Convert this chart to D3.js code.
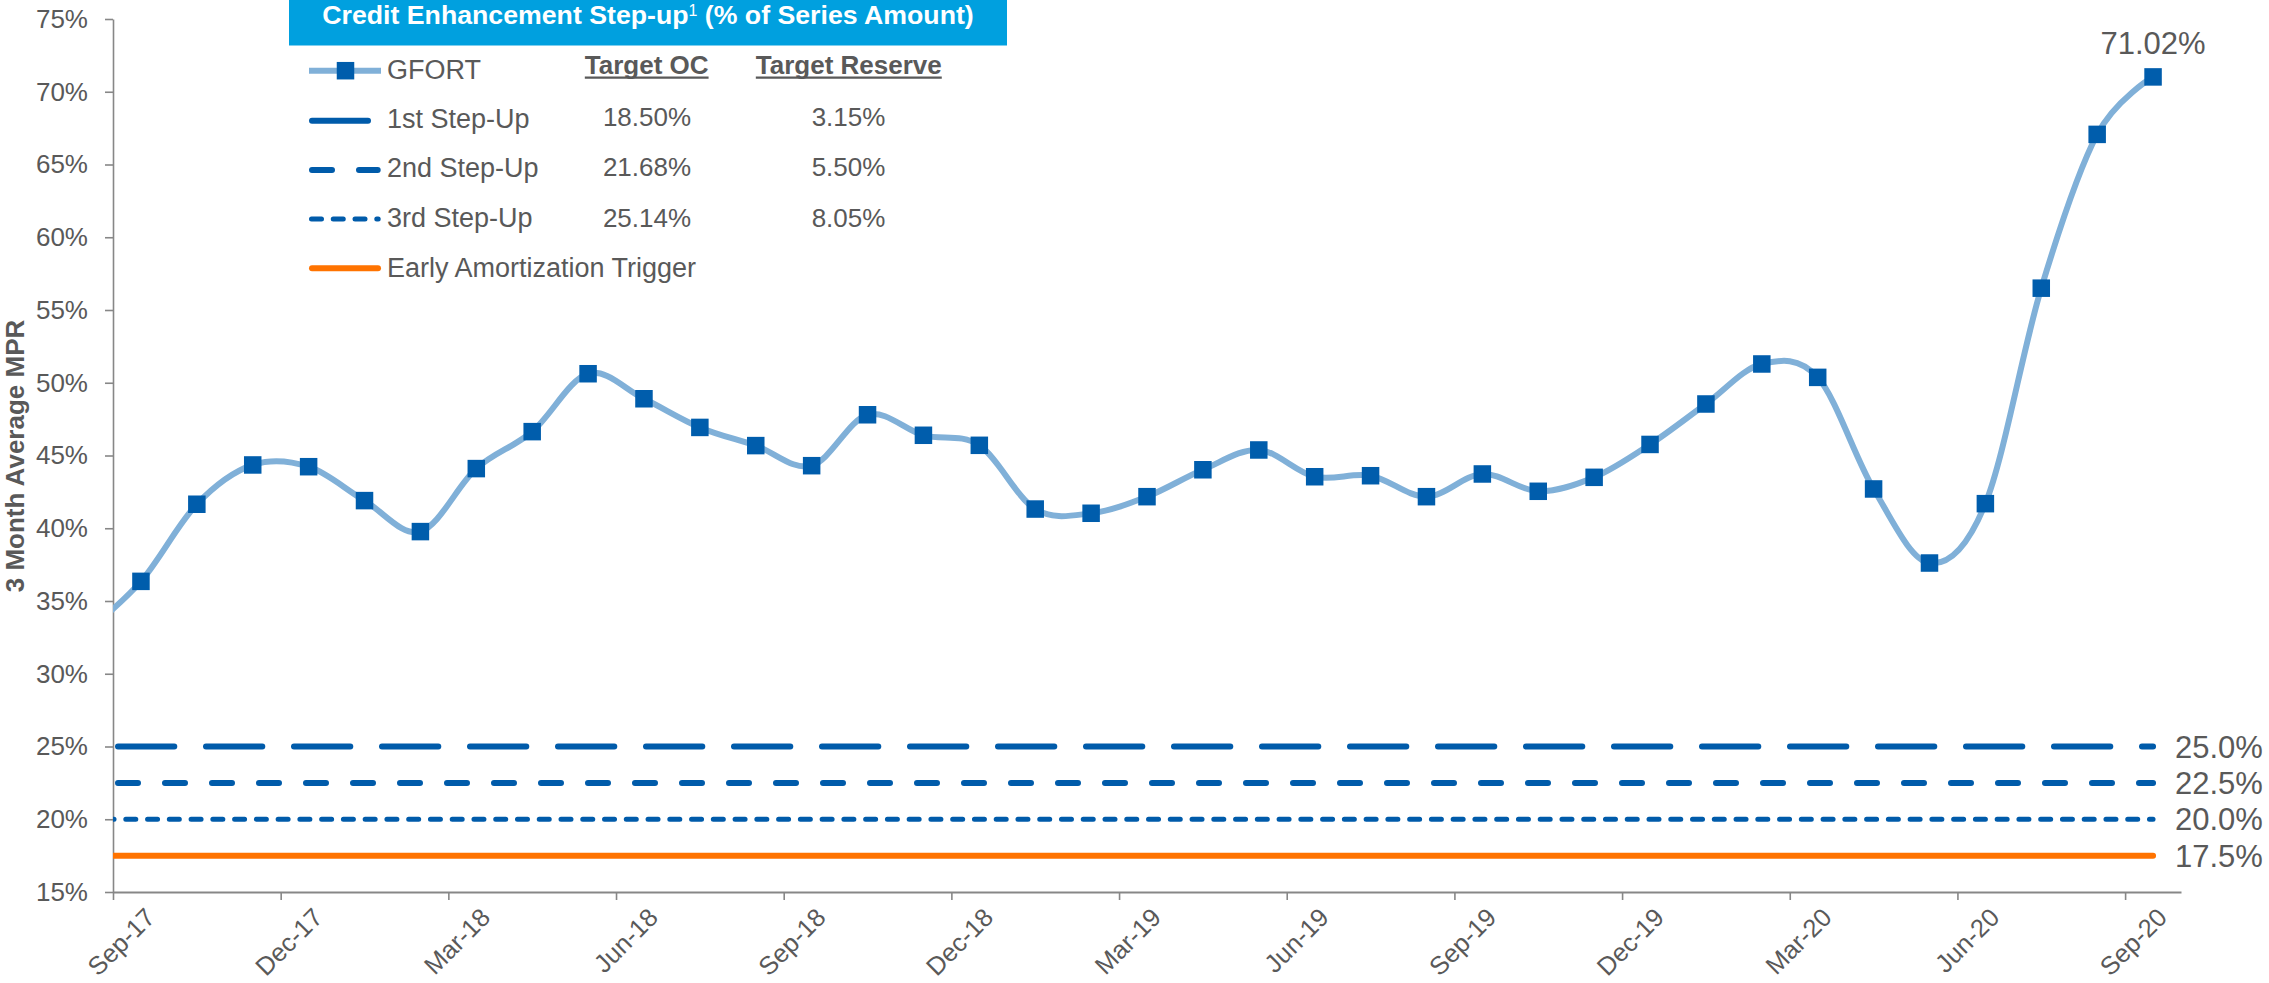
<!DOCTYPE html>
<html>
<head>
<meta charset="utf-8">
<script src="https://cdn.jsdelivr.net/npm/d3@7"></script>
<style>
  html, body { margin: 0; padding: 0; background: #ffffff; }
  svg { display: block; font-family: "Liberation Sans", Arial, Helvetica, sans-serif; }
</style>
</head>
<body>
<svg id="chart" width="2269" height="983"></svg>
<script>
// Monthly 3-month average MPR (first entry sits just left of the plot edge)
const months = [
  "Aug-17","Sep-17","Oct-17","Nov-17","Dec-17","Jan-18","Feb-18","Mar-18","Apr-18","May-18",
  "Jun-18","Jul-18","Aug-18","Sep-18","Oct-18","Nov-18","Dec-18","Jan-19","Feb-19","Mar-19",
  "Apr-19","May-19","Jun-19","Jul-19","Aug-19","Sep-19","Oct-19","Nov-19","Dec-19","Jan-20",
  "Feb-20","Mar-20","Apr-20","May-20","Jun-20","Jul-20","Aug-20","Sep-20"
];
const gfort = [
  32.8, 36.35, 41.65, 44.35, 44.23, 41.9, 39.77, 44.1, 46.64, 50.62,
  48.9, 46.93, 45.68, 44.3, 47.8, 46.39, 45.7, 41.32, 41.03, 42.17,
  44.02, 45.38, 43.54, 43.61, 42.17, 43.73, 42.54, 43.5, 45.76, 48.54,
  51.29, 50.37, 42.7, 37.61, 41.69, 56.5, 67.07, 71.02
];

// Quarterly axis labels (positions are month boundaries counted from Sep-17)
const quarterTicks = [0, 3, 6, 9, 12, 15, 18, 21, 24, 27, 30, 33, 36];
const quarterLabels = ["Sep-17","Dec-17","Mar-18","Jun-18","Sep-18","Dec-18","Mar-19",
                       "Jun-19","Sep-19","Dec-19","Mar-20","Jun-20","Sep-20"];
const yTicks = [15, 20, 25, 30, 35, 40, 45, 50, 55, 60, 65, 70, 75];

// Trigger levels
const stepNames = ["1st Step-Up", "2nd Step-Up", "3rd Step-Up", "Early Amortization Trigger"];
const stepLevels = [25.0, 22.5, 20.0, 17.5];
const targetOC = ["18.50%", "21.68%", "25.14%"];
const targetReserve = ["3.15%", "5.50%", "8.05%"];

// ---- styling ----
const TEXT = "#595959";
const AXIS = "#878787";
const LINE_LIGHT = "#80B0D8";
const MARKER = "#005DAC";
const STEP_BLUE = "#005BAA";
const ORANGE = "#FF7300";
const HEADER = "#00A0DF";

const stepStyles = [
  { color: STEP_BLUE, width: 6, dash: "56.3 31.7", offset: -5 },
  { color: STEP_BLUE, width: 6, dash: "20 27", offset: -5 },
  { color: STEP_BLUE, width: 5, dash: "10 11.76", offset: 8.96 },
  { color: ORANGE,    width: 6, dash: null, offset: 0 }
];

const svg = d3.select("#chart");

const x = d3.scaleLinear().domain([0, 37]).range([113, 2181]);
const y = d3.scaleLinear().domain([15, 75]).range([892, 19]);
const posOf = j => x(j - 0.5);   // month j centred in its slot

svg.append("clipPath").attr("id", "plotClip")
  .append("rect")
  .attr("x", x(0)).attr("y", 0)
  .attr("width", x(37) - x(0) + 30).attr("height", y(15));

// ---- axes ----
const yAxis = d3.axisLeft(y)
  .tickValues(yTicks)
  .tickFormat(d => d + "%")
  .tickSize(8)
  .tickPadding(17)
  .tickSizeOuter(0);

const gy = svg.append("g").attr("transform", `translate(${x(0)},0)`).call(yAxis);
gy.select(".domain").attr("stroke", AXIS).attr("stroke-width", 1.6);
gy.selectAll(".tick line").attr("stroke", AXIS).attr("stroke-width", 1.6);
gy.selectAll(".tick text")
  .attr("fill", TEXT)
  .style("font-size", "26px")
  .style("font-family", "'Liberation Sans', Arial, sans-serif");

const xAxis = d3.axisBottom(x)
  .tickValues(quarterTicks)
  .tickFormat((d, i) => quarterLabels[i])
  .tickSize(8)
  .tickSizeOuter(0);

const gx = svg.append("g").attr("transform", `translate(0,${y(15)})`).call(xAxis);
gx.select(".domain").attr("stroke", AXIS).attr("stroke-width", 2);
gx.selectAll(".tick line").attr("stroke", AXIS).attr("stroke-width", 1.6);
gx.selectAll(".tick text")
  .attr("fill", TEXT)
  .attr("y", 0).attr("dy", 0)
  .attr("text-anchor", "end")
  .attr("transform", "translate(43,27) rotate(-45)")
  .style("font-size", "25.5px")
  .style("font-family", "'Liberation Sans', Arial, sans-serif");

// y-axis title
svg.append("text")
  .attr("transform", `translate(23.5,456) rotate(-90)`)
  .attr("text-anchor", "middle")
  .attr("fill", TEXT)
  .style("font-size", "26px")
  .style("font-weight", "bold")
  .text("3 Month Average MPR");

// ---- trigger lines ----
const plot = svg.append("g").attr("clip-path", "url(#plotClip)");
const lastPos = posOf(months.length - 1);

stepLevels.forEach((lvl, i) => {
  const st = stepStyles[i];
  const line = d3.line()([[x(0), y(lvl)], [lastPos, y(lvl)]]);
  const p = plot.append("path")
    .attr("d", line)
    .attr("fill", "none")
    .attr("stroke", st.color)
    .attr("stroke-width", st.width)
    .attr("stroke-linecap", "round");
  if (st.dash) p.attr("stroke-dasharray", st.dash).attr("stroke-dashoffset", st.offset);

  svg.append("text")
    .attr("x", 2175)
    .attr("y", y(lvl))
    .attr("dy", "0.36em")
    .attr("fill", TEXT)
    .style("font-size", "31px")
    .text(d3.format(".1f")(lvl) + "%");
});

// ---- GFORT series ----
const series = gfort.map((v, j) => [posOf(j), y(v)]);
plot.append("path")
  .attr("d", d3.line().curve(d3.curveCardinal.tension(0))(series))
  .attr("fill", "none")
  .attr("stroke", LINE_LIGHT)
  .attr("stroke-width", 6)
  .attr("stroke-linejoin", "round");

const M = 17.5;
plot.selectAll("rect.marker")
  .data(series)
  .join("rect")
  .attr("class", "marker")
  .attr("x", d => d[0] - M / 2)
  .attr("y", d => d[1] - M / 2)
  .attr("width", M).attr("height", M)
  .attr("fill", MARKER);

// latest value label
const lastVal = gfort[gfort.length - 1];
svg.append("text")
  .attr("x", lastPos)
  .attr("y", y(lastVal) - 23)
  .attr("text-anchor", "middle")
  .attr("fill", TEXT)
  .style("font-size", "31px")
  .text(d3.format(".2f")(lastVal) + "%");

// ---- legend / step-up table ----
const lg = svg.append("g");

lg.append("rect")
  .attr("x", 289).attr("y", 0)
  .attr("width", 718).attr("height", 45.5)
  .attr("fill", HEADER);

const title = lg.append("text")
  .attr("x", 648).attr("y", 23.5)
  .attr("text-anchor", "middle")
  .attr("fill", "#ffffff")
  .style("font-size", "26.7px")
  .style("font-weight", "bold");
title.append("tspan").text("Credit Enhancement Step-up");
title.append("tspan").attr("baseline-shift", "super").style("font-size", "16px").style("font-weight", "normal").text("1");
title.append("tspan").text(" (% of Series Amount)");

const symX0 = 309, symX1 = 381;
const rowSym = [70.7, 120.7, 170, 219, 268.3];
const rowBase = [79, 128.3, 176.8, 226.7, 276.7];
const textX = 387;
const LEG_FONT = "27px";

// GFORT row
lg.append("line")
  .attr("x1", symX0).attr("x2", symX1)
  .attr("y1", rowSym[0]).attr("y2", rowSym[0])
  .attr("stroke", LINE_LIGHT).attr("stroke-width", 6);
lg.append("rect")
  .attr("x", 345.5 - M / 2).attr("y", rowSym[0] - M / 2)
  .attr("width", M).attr("height", M)
  .attr("fill", MARKER);
lg.append("text")
  .attr("x", textX).attr("y", rowBase[0])
  .attr("fill", TEXT).style("font-size", LEG_FONT)
  .text("GFORT");

// trigger rows
const legendSeg = [[312, 368], [312, 377.7], [311.5, 378.2], [312, 378]];
stepNames.forEach((name, i) => {
  const st = stepStyles[i];
  const ln = lg.append("line")
    .attr("x1", legendSeg[i][0]).attr("x2", legendSeg[i][1])
    .attr("y1", rowSym[i + 1]).attr("y2", rowSym[i + 1])
    .attr("stroke", st.color)
    .attr("stroke-width", st.width)
    .attr("stroke-linecap", "round");
  if (st.dash && i > 0) ln.attr("stroke-dasharray", st.dash);
  lg.append("text")
    .attr("x", textX).attr("y", rowBase[i + 1])
    .attr("fill", TEXT).style("font-size", LEG_FONT)
    .text(name);
});

// column headers with underline
const headers = [["Target OC", 646.7], ["Target Reserve", 848.8]];
headers.forEach(([label, cx]) => {
  const t = lg.append("text")
    .attr("x", cx).attr("y", 74)
    .attr("text-anchor", "middle")
    .attr("fill", TEXT)
    .style("font-size", "26px")
    .style("font-weight", "bold")
    .text(label);
  const w = t.node().getComputedTextLength();
  lg.append("line")
    .attr("x1", cx - w / 2).attr("x2", cx + w / 2)
    .attr("y1", 77.6).attr("y2", 77.6)
    .attr("stroke", TEXT).attr("stroke-width", 2.4);
});

const valueBase = [125.5, 176.2, 226.6];
targetOC.forEach((v, i) => {
  lg.append("text")
    .attr("x", 647).attr("y", valueBase[i])
    .attr("text-anchor", "middle")
    .attr("fill", TEXT).style("font-size", "26px")
    .text(v);
});
targetReserve.forEach((v, i) => {
  lg.append("text")
    .attr("x", 848.5).attr("y", valueBase[i])
    .attr("text-anchor", "middle")
    .attr("fill", TEXT).style("font-size", "26px")
    .text(v);
});
</script>
</body>
</html>
